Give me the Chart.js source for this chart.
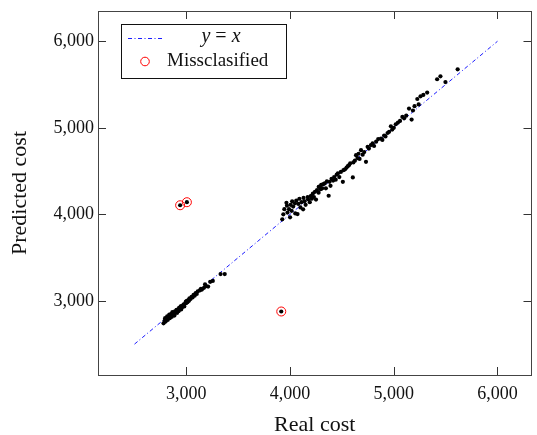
<!DOCTYPE html>
<html>
<head>
<meta charset="utf-8">
<script src="https://cdn.jsdelivr.net/npm/chart.js@4.4.1/dist/chart.umd.min.js"></script>
<style>
  html, body { margin: 0; padding: 0; background: #fff; }
  #wrap { width: 537px; height: 435px; }
</style>
</head>
<body>
<div id="wrap"><canvas id="costChart" width="537" height="435"></canvas></div>
<script>
// values
const realCost = [
  2780, 2790, 2795, 2800, 2810, 2815, 2820, 2830, 2835, 2840, 2850, 2855, 2860, 2865, 2870,
  2880, 2885, 2890, 2900, 2905, 2910, 2920, 2925, 2930, 2940, 2945, 2950, 2955, 2960, 2970,
  2975, 2980, 2990, 2995, 3000, 3005, 3010, 3020, 3025, 3030, 3040, 3050, 3060, 3070, 3080,
  3090, 3100, 3110, 3130, 3140, 3150, 3170, 3180, 3190, 3210, 3230, 3255, 3330, 3370,
  3925, 3935, 3945, 3965, 3970, 3975, 3990, 4000, 4005, 4015, 4020, 4030, 4047, 4072, 4060,
  4050, 4080, 4090, 4100, 4110, 4126, 4130, 4140, 4150, 4174, 4170, 4206, 4190, 4200, 4210,
  4220, 4230, 4240, 4250, 4260, 4276, 4275, 4285, 4295, 4300, 4310, 4320, 4334, 4345, 4355,
  4372, 4381, 4390, 4400, 4415, 4425, 4440, 4450, 4461, 4475, 4490, 4509, 4515, 4530, 4545,
  4557, 4570, 4580, 4605, 4610, 4625, 4636, 4650, 4660, 4670, 4684, 4700, 4715, 4732, 4748,
  4760, 4780, 4796, 4810, 4830, 4850, 4877, 4890, 4907, 4920, 4940, 4955, 4972, 4985, 5000,
  5019, 5040, 5060, 5083, 5100, 5120, 5147, 5172, 5185, 5200, 5227, 5240, 5258, 5285, 5322,
  5418, 5450, 5498, 5616,
  2940, 3005, 3915
];
const predictedCost = [
  2740, 2770, 2800, 2760, 2790, 2820, 2780, 2810, 2840, 2800, 2830, 2850, 2815, 2870, 2840,
  2860, 2830, 2880, 2870, 2895, 2860, 2900, 2880, 2920, 2910, 2935, 2900, 2940, 2925, 2950,
  2960, 2935, 2970, 2990, 2975, 3000, 2985, 3010, 3000, 3030, 3020, 3045, 3040, 3070, 3060,
  3090, 3080, 3110, 3120, 3140, 3130, 3150, 3190, 3170, 3165, 3220, 3230, 3310, 3310,
  3942, 4000, 4060, 4134, 4100, 4020, 4060, 3965, 4110, 4040, 4150, 4090, 4127, 4003, 4160,
  4010, 4120, 4180, 4080, 4140, 4058, 4190, 4150, 4110, 4173, 4200, 4211, 4140, 4210, 4180,
  4240, 4200, 4260, 4170, 4280, 4318, 4250, 4320, 4290, 4340, 4300, 4350, 4357, 4300, 4380,
  4215, 4376, 4330, 4410, 4390, 4430, 4400, 4460, 4473, 4430, 4490, 4376, 4510, 4520, 4540,
  4557, 4570, 4590, 4426, 4600, 4620, 4684, 4650, 4700, 4640, 4742, 4690, 4720, 4607, 4780,
  4760, 4800, 4819, 4790, 4840, 4870, 4876, 4860, 4910, 4900, 4940, 4953, 5018, 4980, 5000,
  5041, 5060, 5080, 5126, 5110, 5140, 5222, 5095, 5200, 5250, 5333, 5270, 5364, 5380, 5407,
  5561, 5595, 5529, 5676,
  4105, 4140, 2877
];
const missReal = [2940, 3005, 3915];
const missPredicted = [4105, 4140, 2877];
const identityLine = [2500, 6000];
const xTicks = [3000, 4000, 5000, 6000];
const yTicks = [3000, 4000, 5000, 6000];

const serif = "'Liberation Serif', 'Times New Roman', serif";

const frameBox = {
  id: 'frameBox',
  afterDatasetsDraw(chart) {
    const { ctx, chartArea: a, scales } = chart;
    const len = 8;
    ctx.save();
    ctx.strokeStyle = '#333';
    ctx.lineWidth = 1;
    ctx.beginPath();
    xTicks.forEach(v => {
      const px = Math.round(scales.x.getPixelForValue(v)) + 0.5;
      ctx.moveTo(px, a.bottom); ctx.lineTo(px, a.bottom - len);
      ctx.moveTo(px, a.top); ctx.lineTo(px, a.top + len);
    });
    yTicks.forEach(v => {
      const py = Math.round(scales.y.getPixelForValue(v)) + 0.5;
      ctx.moveTo(a.left, py); ctx.lineTo(a.left + len, py);
      ctx.moveTo(a.right, py); ctx.lineTo(a.right - len, py);
    });
    ctx.stroke();
    ctx.strokeStyle = '#444';
    ctx.strokeRect(Math.round(a.left) + 0.5, Math.round(a.top) + 0.5,
      Math.round(a.right - a.left) - 1, Math.round(a.bottom - a.top));
    ctx.restore();
  }
};

const boxLegend = {
  id: 'boxLegend',
  afterDraw(chart) {
    const ctx = chart.ctx;
    ctx.save();
    ctx.fillStyle = '#fff';
    ctx.fillRect(122, 25, 165, 54);
    ctx.strokeStyle = '#111';
    ctx.lineWidth = 1;
    ctx.strokeRect(121.5, 24.5, 165, 54);

    // y = x sample
    ctx.strokeStyle = '#0000ff';
    ctx.lineWidth = 0.9;
    ctx.setLineDash([4, 2.5, 1, 2.5]);
    ctx.beginPath();
    ctx.moveTo(128, 38.5);
    ctx.lineTo(163, 38.5);
    ctx.stroke();
    ctx.setLineDash([]);

    // misclassified sample
    ctx.strokeStyle = '#ff0000';
    ctx.lineWidth = 1;
    ctx.beginPath();
    ctx.arc(145, 61.5, 4.3, 0, Math.PI * 2);
    ctx.stroke();

    ctx.fillStyle = '#111';
    ctx.textBaseline = 'alphabetic';
    const it = 'italic 20px ' + serif;
    const up = '20px ' + serif;
    const parts = [[it, 'y'], [up, ' = '], [it, 'x']];
    let w = 0;
    parts.forEach(p => { ctx.font = p[0]; w += ctx.measureText(p[1]).width; });
    let x = 221 - w / 2;
    parts.forEach(p => {
      ctx.font = p[0];
      ctx.fillText(p[1], x, 41.5);
      x += ctx.measureText(p[1]).width;
    });
    ctx.font = '19px ' + serif;
    ctx.fillText('Missclasified', 167, 66);
    ctx.restore();
  }
};

new Chart(document.getElementById('costChart'), {
  type: 'scatter',
  data: {
    datasets: [
      {
        label: 'Misclassified',
        data: missReal.map((v, i) => ({ x: v, y: missPredicted[i] })),
        pointStyle: 'circle',
        pointRadius: 4.5,
        pointBorderWidth: 1,
        pointBorderColor: '#ff0000',
        pointBackgroundColor: 'rgba(0,0,0,0)',
        order: 0
      },
      {
        label: 'Data',
        data: realCost.map((v, i) => ({ x: v, y: predictedCost[i] })),
        pointRadius: 2.1,
        pointBorderWidth: 0,
        pointBackgroundColor: '#000',
        order: 1
      },
      {
        label: 'y = x',
        data: identityLine.map(v => ({ x: v, y: v })),
        showLine: true,
        borderColor: '#0000ff',
        borderWidth: 0.9,
        borderDash: [4, 2.5, 1, 2.5],
        pointRadius: 0,
        order: 2
      }
    ]
  },
  options: {
    responsive: false,
    animation: false,
    layout: { padding: { top: 11, right: 2, left: 0, bottom: 0 } },
    plugins: { legend: { display: false }, tooltip: { enabled: false } },
    scales: {
      x: {
        type: 'linear',
        min: 2148,
        max: 6328,
        grid: { display: false, drawTicks: false },
        border: { display: false },
        afterBuildTicks: s => { s.ticks = xTicks.map(v => ({ value: v })); },
        afterFit: s => { s.height = 60; s.paddingLeft = 0; s.paddingRight = 0; },
        ticks: {
          padding: 8,
          maxRotation: 0,
          color: '#111',
          font: { family: serif, size: 18 },
          callback: v => v.toLocaleString('en-US')
        },
        title: {
          display: true,
          text: 'Real cost',
          color: '#111',
          font: { family: serif, size: 22, lineHeight: 0.9 },
          padding: 0
        }
      },
      y: {
        type: 'linear',
        min: 2143,
        max: 6350,
        grid: { display: false, drawTicks: false },
        border: { display: false },
        afterBuildTicks: s => { s.ticks = yTicks.map(v => ({ value: v })); },
        afterFit: s => { s.width = 98; s.paddingTop = 0; s.paddingBottom = 0; },
        ticks: {
          padding: 4,
          color: '#111',
          font: { family: serif, size: 18 },
          callback: v => v.toLocaleString('en-US')
        },
        title: {
          display: true,
          text: 'Predicted cost',
          color: '#111',
          font: { family: serif, size: 22 },
          padding: { top: 7, bottom: 0 }
        }
      }
    }
  },
  plugins: [frameBox, boxLegend]
});
</script>
</body>
</html>
